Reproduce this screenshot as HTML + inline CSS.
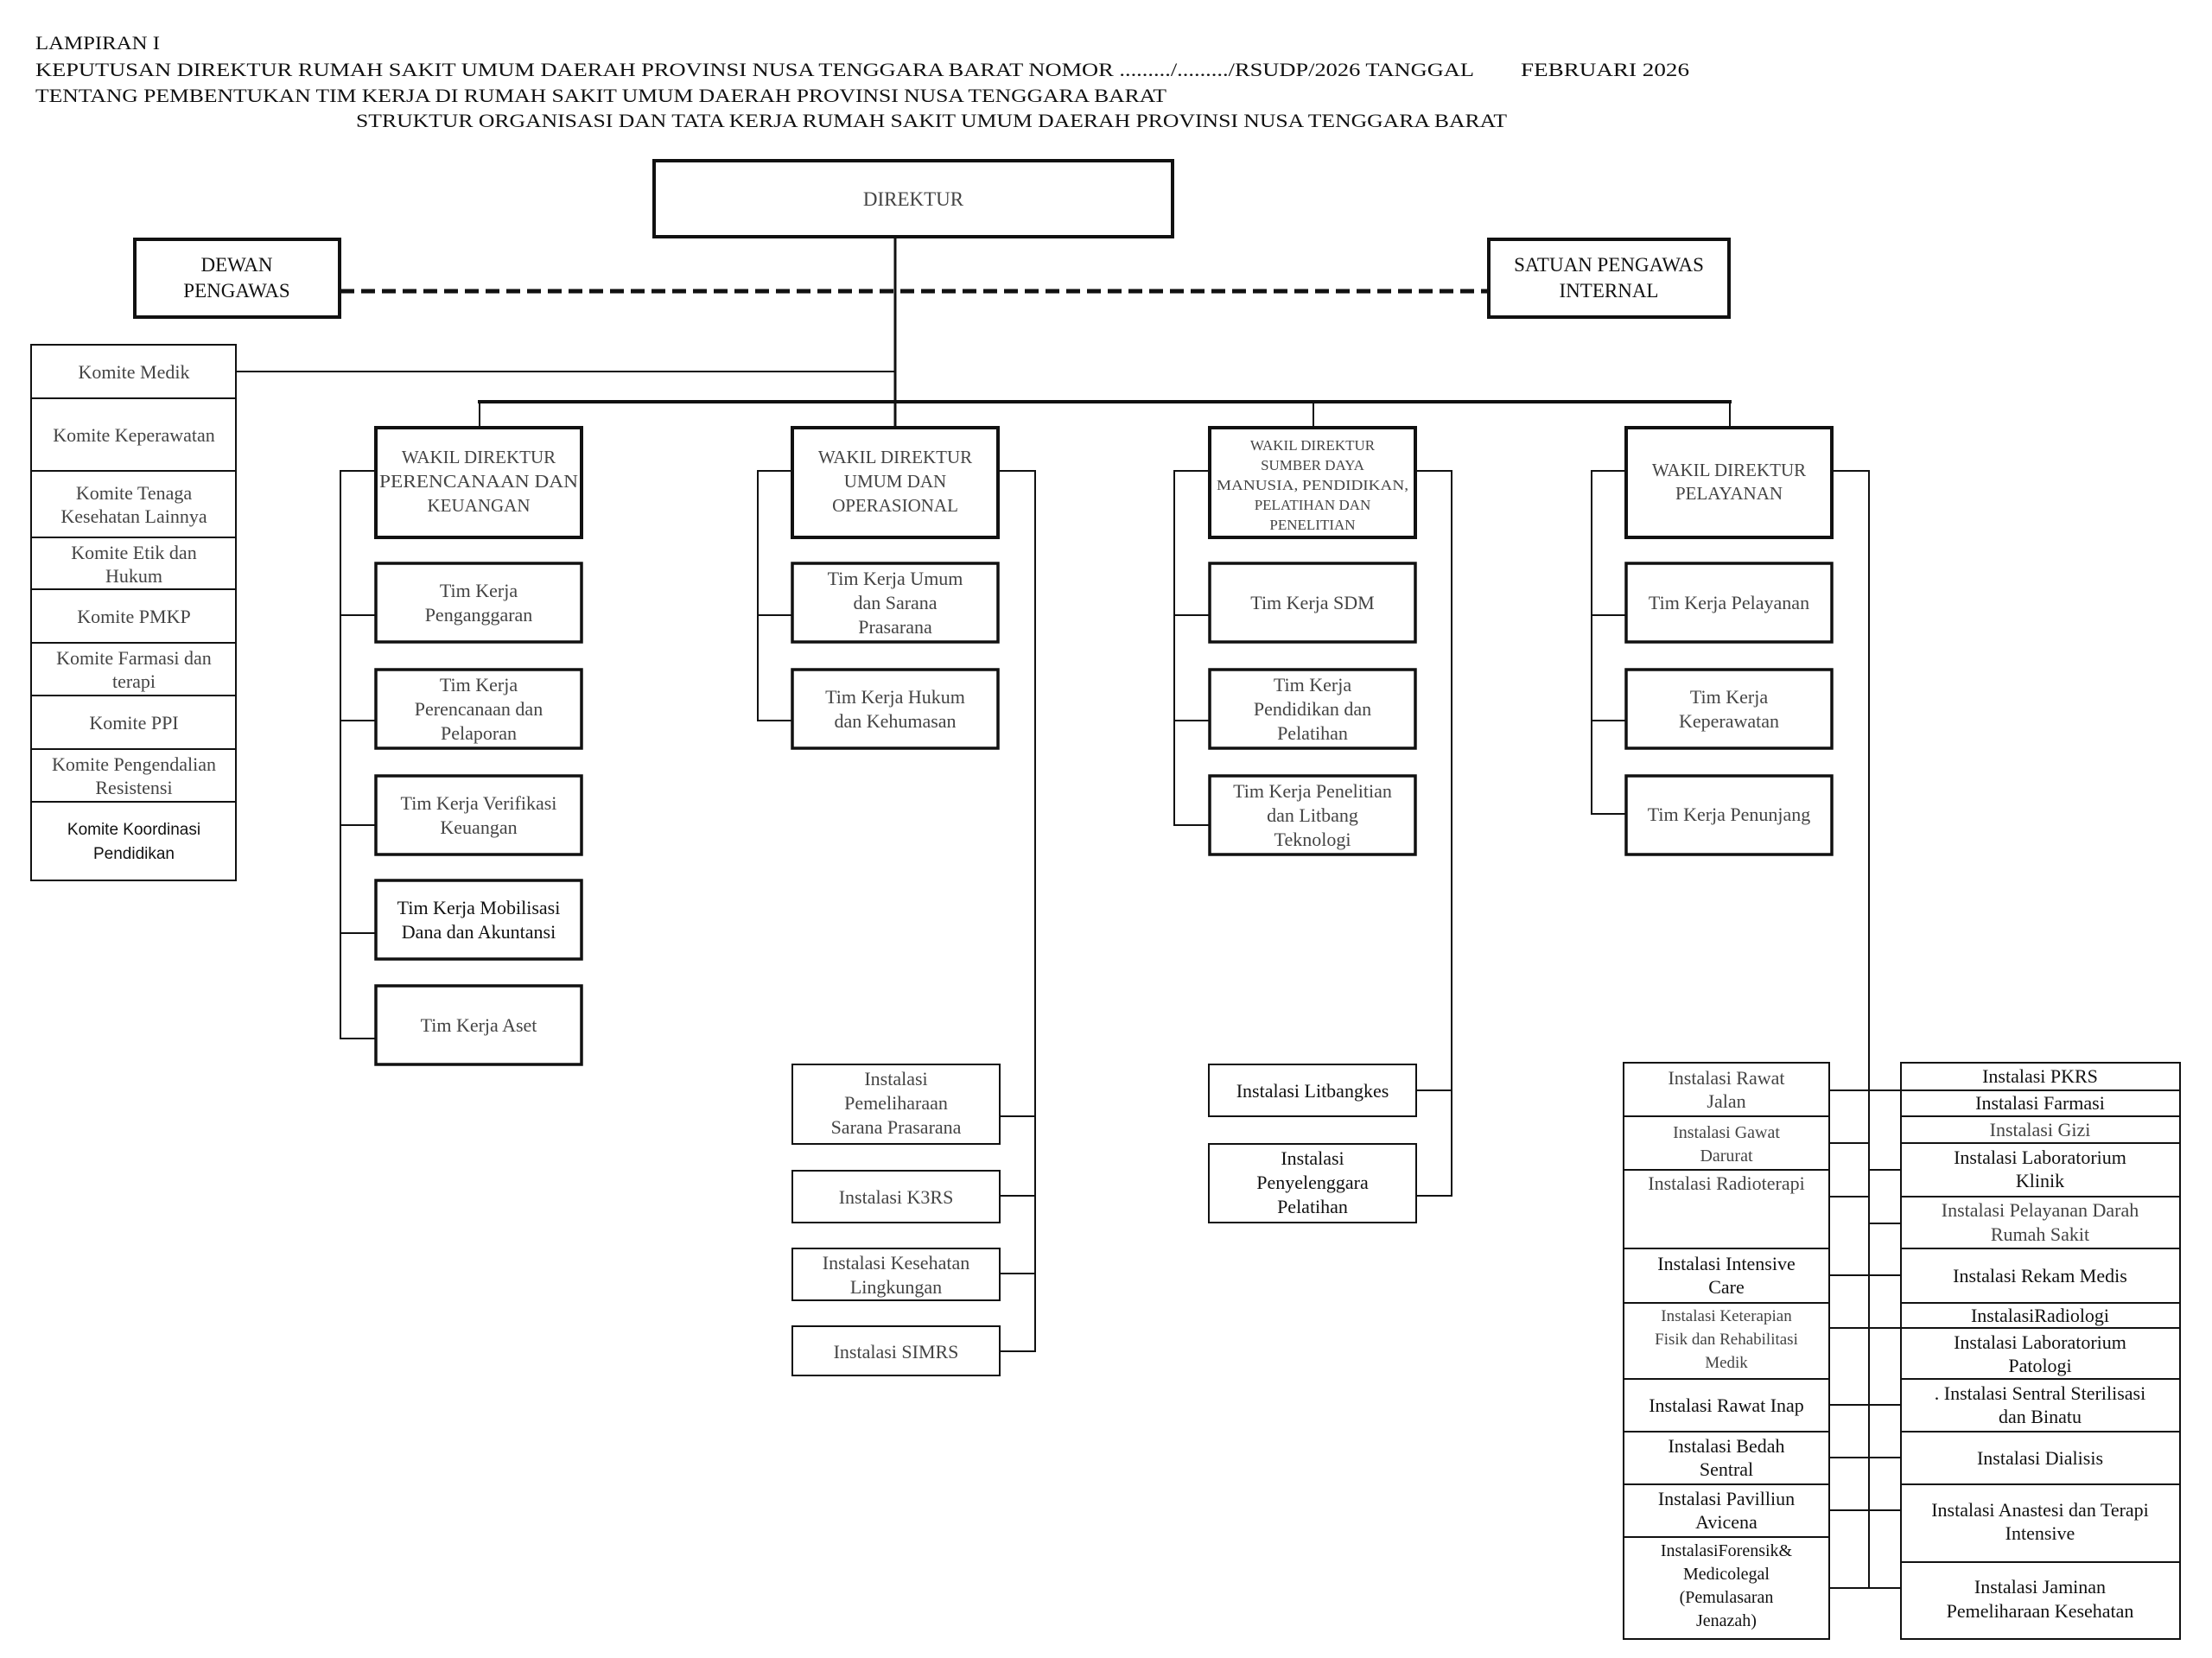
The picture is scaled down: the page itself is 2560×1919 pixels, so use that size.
<!DOCTYPE html>
<html><head><meta charset="utf-8"><style>
html,body{margin:0;padding:0;background:#fff;}
svg{display:block;}
text{font-family:"Liberation Serif",serif;text-anchor:middle;fill:#444;}
.h{text-anchor:start;fill:#111;font-size:22px;}
.k{fill:#111;}
</style></head><body>
<svg width="2560" height="1919" viewBox="0 0 2560 1919" xmlns="http://www.w3.org/2000/svg">
<rect width="2560" height="1919" fill="#fff"/>
<!-- header -->
<text class="h" x="41" y="57" textLength="144" lengthAdjust="spacingAndGlyphs">LAMPIRAN I</text>
<text class="h" x="41" y="88" textLength="1665" lengthAdjust="spacingAndGlyphs">KEPUTUSAN DIREKTUR RUMAH SAKIT UMUM DAERAH PROVINSI NUSA TENGGARA BARAT NOMOR ........./........./RSUDP/2026 TANGGAL</text>
<text class="h" x="1760" y="88" textLength="195" lengthAdjust="spacingAndGlyphs">FEBRUARI 2026</text>
<text class="h" x="41" y="118" textLength="1309" lengthAdjust="spacingAndGlyphs">TENTANG PEMBENTUKAN TIM KERJA DI RUMAH SAKIT UMUM DAERAH PROVINSI NUSA TENGGARA BARAT</text>
<text class="h" x="412" y="147" textLength="1332" lengthAdjust="spacingAndGlyphs">STRUKTUR ORGANISASI DAN TATA KERJA RUMAH SAKIT UMUM DAERAH PROVINSI NUSA TENGGARA BARAT</text>

<g stroke="#111" fill="none">
<!-- top -->
<rect x="757" y="186" width="600" height="88" stroke-width="4"/>
<rect x="156" y="277" width="237" height="90" stroke-width="4"/>
<rect x="1723" y="277" width="278" height="90" stroke-width="4"/>
<line x1="394" y1="337" x2="1721" y2="337" stroke-width="5" stroke-dasharray="16 8"/>
<line x1="1036" y1="275" x2="1036" y2="494" stroke-width="3"/>
<line x1="273" y1="430" x2="1036" y2="430" stroke-width="2"/>
<line x1="553" y1="465" x2="2004" y2="465" stroke-width="4"/>
<line x1="555" y1="465" x2="555" y2="494" stroke-width="2"/>
<line x1="1520" y1="465" x2="1520" y2="494" stroke-width="2"/>
<line x1="2002" y1="465" x2="2002" y2="494" stroke-width="2"/>
<!-- komite -->
<g stroke-width="2">
<rect x="36" y="399" width="237" height="620"/>
<line x1="36" y1="461" x2="273" y2="461"/><line x1="36" y1="545" x2="273" y2="545"/>
<line x1="36" y1="622" x2="273" y2="622"/><line x1="36" y1="682" x2="273" y2="682"/>
<line x1="36" y1="744" x2="273" y2="744"/><line x1="36" y1="805" x2="273" y2="805"/>
<line x1="36" y1="867" x2="273" y2="867"/><line x1="36" y1="928" x2="273" y2="928"/>
</g>
<!-- wakil -->
<g stroke-width="4">
<rect x="435" y="495" width="238" height="127"/>
<rect x="917" y="495" width="238" height="127"/>
<rect x="1400" y="495" width="238" height="127"/>
<rect x="1882" y="495" width="238" height="127"/>
</g>
<!-- tim boxes -->
<g stroke-width="3.5">
<rect x="435" y="652" width="238" height="91"/><rect x="435" y="775" width="238" height="91"/>
<rect x="435" y="898" width="238" height="91"/><rect x="435" y="1019" width="238" height="91"/>
<rect x="435" y="1141" width="238" height="91"/>
<rect x="917" y="652" width="238" height="91"/><rect x="917" y="775" width="238" height="91"/>
<rect x="1400" y="652" width="238" height="91"/><rect x="1400" y="775" width="238" height="91"/>
<rect x="1400" y="898" width="238" height="91"/>
<rect x="1882" y="652" width="238" height="91"/><rect x="1882" y="775" width="238" height="91"/>
<rect x="1882" y="898" width="238" height="91"/>
</g>
<!-- brackets -->
<g stroke-width="2">
<polyline points="435,545 394,545 394,1202 435,1202"/>
<line x1="394" y1="712" x2="435" y2="712"/><line x1="394" y1="834" x2="435" y2="834"/>
<line x1="394" y1="955" x2="435" y2="955"/><line x1="394" y1="1080" x2="435" y2="1080"/>
<polyline points="917,545 877,545 877,834 917,834"/>
<line x1="877" y1="712" x2="917" y2="712"/>
<polyline points="1155,545 1198,545 1198,1564 1157,1564"/>
<line x1="1157" y1="1292" x2="1198" y2="1292"/><line x1="1157" y1="1384" x2="1198" y2="1384"/>
<line x1="1157" y1="1474" x2="1198" y2="1474"/>
<polyline points="1400,545 1359,545 1359,955 1400,955"/>
<line x1="1359" y1="712" x2="1400" y2="712"/><line x1="1359" y1="834" x2="1400" y2="834"/>
<polyline points="1638,545 1680,545 1680,1384 1639,1384"/>
<line x1="1639" y1="1262" x2="1680" y2="1262"/>
<polyline points="1882,545 1842,545 1842,942 1882,942"/>
<line x1="1842" y1="712" x2="1882" y2="712"/><line x1="1842" y1="834" x2="1882" y2="834"/>
<polyline points="2120,545 2163,545 2163,1838"/>
<!-- installasi umum/sdm -->
<rect x="917" y="1232" width="240" height="92"/><rect x="917" y="1355" width="240" height="60"/>
<rect x="917" y="1445" width="240" height="60"/><rect x="917" y="1535" width="240" height="57"/>
<rect x="1399" y="1232" width="240" height="60"/><rect x="1399" y="1324" width="240" height="91"/>
<!-- pelayanan installations -->
<rect x="1879" y="1230" width="238" height="667"/>
<line x1="1879" y1="1292" x2="2117" y2="1292"/><line x1="1879" y1="1354" x2="2117" y2="1354"/>
<line x1="1879" y1="1445" x2="2117" y2="1445"/><line x1="1879" y1="1508" x2="2117" y2="1508"/>
<line x1="1879" y1="1596" x2="2117" y2="1596"/><line x1="1879" y1="1657" x2="2117" y2="1657"/>
<line x1="1879" y1="1718" x2="2117" y2="1718"/><line x1="1879" y1="1779" x2="2117" y2="1779"/>
<rect x="2200" y="1230" width="323" height="667"/>
<line x1="2200" y1="1262" x2="2523" y2="1262"/><line x1="2200" y1="1292" x2="2523" y2="1292"/>
<line x1="2200" y1="1323" x2="2523" y2="1323"/><line x1="2200" y1="1385" x2="2523" y2="1385"/>
<line x1="2200" y1="1445" x2="2523" y2="1445"/><line x1="2200" y1="1508" x2="2523" y2="1508"/>
<line x1="2200" y1="1537" x2="2523" y2="1537"/><line x1="2200" y1="1596" x2="2523" y2="1596"/>
<line x1="2200" y1="1657" x2="2523" y2="1657"/><line x1="2200" y1="1718" x2="2523" y2="1718"/>
<line x1="2200" y1="1808" x2="2523" y2="1808"/>
<line x1="2117" y1="1262" x2="2200" y2="1262"/><line x1="2117" y1="1323" x2="2163" y2="1323"/>
<line x1="2163" y1="1354" x2="2200" y2="1354"/><line x1="2117" y1="1385" x2="2163" y2="1385"/>
<line x1="2163" y1="1416" x2="2200" y2="1416"/><line x1="2117" y1="1476" x2="2200" y2="1476"/>
<line x1="2117" y1="1537" x2="2200" y2="1537"/><line x1="2117" y1="1626" x2="2200" y2="1626"/>
<line x1="2117" y1="1687" x2="2200" y2="1687"/><line x1="2117" y1="1748" x2="2200" y2="1748"/>
<line x1="2117" y1="1838" x2="2200" y2="1838"/>
</g>
</g>

<!-- labels -->
<g font-size="23">
<text x="1057" y="238">DIREKTUR</text>
<text class="k" x="274" y="314">DEWAN</text><text class="k" x="274" y="344">PENGAWAS</text>
<text class="k" x="1862" y="314">SATUAN PENGAWAS</text><text class="k" x="1862" y="344">INTERNAL</text>
</g>
<g font-size="22">
<text x="155" y="438">Komite Medik</text>
<text x="155" y="511">Komite Keperawatan</text>
<text x="155" y="578">Komite Tenaga</text><text x="155" y="605">Kesehatan Lainnya</text>
<text x="155" y="647">Komite Etik dan</text><text x="155" y="674">Hukum</text>
<text x="155" y="721">Komite PMKP</text>
<text x="155" y="769">Komite Farmasi dan</text><text x="155" y="796">terapi</text>
<text x="155" y="844">Komite PPI</text>
<text x="155" y="892">Komite Pengendalian</text><text x="155" y="919">Resistensi</text>
</g>
<g font-size="19">
<text class="k" x="155" y="966" style="font-family:'Liberation Sans',sans-serif">Komite Koordinasi</text>
<text class="k" x="155" y="994" style="font-family:'Liberation Sans',sans-serif">Pendidikan</text>
</g>
<g font-size="21">
<text x="554" y="536">WAKIL DIREKTUR</text><text x="554" y="564" textLength="230" lengthAdjust="spacingAndGlyphs">PERENCANAAN DAN</text><text x="554" y="592">KEUANGAN</text>
<text x="1036" y="536">WAKIL DIREKTUR</text><text x="1036" y="564">UMUM DAN</text><text x="1036" y="592">OPERASIONAL</text>
<text x="2001" y="551">WAKIL DIREKTUR</text><text x="2001" y="578">PELAYANAN</text>
</g>
<g font-size="17">
<text x="1519" y="521">WAKIL DIREKTUR</text><text x="1519" y="544">SUMBER DAYA</text>
<text x="1519" y="567" textLength="222" lengthAdjust="spacingAndGlyphs">MANUSIA, PENDIDIKAN,</text><text x="1519" y="590">PELATIHAN DAN</text><text x="1519" y="613">PENELITIAN</text>
</g>
<g font-size="22">
<text x="554" y="691">Tim Kerja</text><text x="554" y="719">Penganggaran</text>
<text x="554" y="800">Tim Kerja</text><text x="554" y="828">Perencanaan dan</text><text x="554" y="856">Pelaporan</text>
<text x="554" y="937">Tim Kerja Verifikasi</text><text x="554" y="965">Keuangan</text>
<text class="k" x="554" y="1058">Tim Kerja Mobilisasi</text><text class="k" x="554" y="1086">Dana dan Akuntansi</text>
<text x="554" y="1194">Tim Kerja Aset</text>
<text x="1036" y="677">Tim Kerja Umum</text><text x="1036" y="705">dan Sarana</text><text x="1036" y="733">Prasarana</text>
<text x="1036" y="814">Tim Kerja Hukum</text><text x="1036" y="842">dan Kehumasan</text>
<text x="1519" y="705">Tim Kerja SDM</text>
<text x="1519" y="800">Tim Kerja</text><text x="1519" y="828">Pendidikan dan</text><text x="1519" y="856">Pelatihan</text>
<text x="1519" y="923">Tim Kerja Penelitian</text><text x="1519" y="951">dan Litbang</text><text x="1519" y="979">Teknologi</text>
<text x="2001" y="705">Tim Kerja Pelayanan</text>
<text x="2001" y="814">Tim Kerja</text><text x="2001" y="842">Keperawatan</text>
<text x="2001" y="950">Tim Kerja Penunjang</text>
<text x="1037" y="1256">Instalasi</text><text x="1037" y="1284">Pemeliharaan</text><text x="1037" y="1312">Sarana Prasarana</text>
<text x="1037" y="1393">Instalasi K3RS</text>
<text x="1037" y="1469">Instalasi Kesehatan</text><text x="1037" y="1497">Lingkungan</text>
<text x="1037" y="1572">Instalasi SIMRS</text>
<text class="k" x="1519" y="1270">Instalasi Litbangkes</text>
<text class="k" x="1519" y="1348">Instalasi</text><text class="k" x="1519" y="1376">Penyelenggara</text><text class="k" x="1519" y="1404">Pelatihan</text>
</g>
<g font-size="22">
<text x="1998" y="1255">Instalasi Rawat</text><text x="1998" y="1282">Jalan</text>
<text x="1998" y="1317" font-size="20">Instalasi Gawat</text><text x="1998" y="1344" font-size="20">Darurat</text>
<text x="1998" y="1377">Instalasi Radioterapi</text>
<text class="k" x="1998" y="1470">Instalasi Intensive</text><text class="k" x="1998" y="1497">Care</text>
<text x="1998" y="1529" font-size="19">Instalasi Keterapian</text><text x="1998" y="1556" font-size="19">Fisik dan Rehabilitasi</text><text x="1998" y="1583" font-size="19">Medik</text>
<text class="k" x="1998" y="1634">Instalasi Rawat Inap</text>
<text class="k" x="1998" y="1681">Instalasi Bedah</text><text class="k" x="1998" y="1708">Sentral</text>
<text class="k" x="1998" y="1742">Instalasi Pavilliun</text><text class="k" x="1998" y="1769">Avicena</text>
<text class="k" x="1998" y="1801" font-size="20">InstalasiForensik&amp;</text><text class="k" x="1998" y="1828" font-size="20">Medicolegal</text><text class="k" x="1998" y="1855" font-size="20">(Pemulasaran</text><text class="k" x="1998" y="1882" font-size="20">Jenazah)</text>
<text class="k" x="2361" y="1253">Instalasi PKRS</text>
<text class="k" x="2361" y="1284">Instalasi Farmasi</text>
<text x="2361" y="1315">Instalasi Gizi</text>
<text class="k" x="2361" y="1347">Instalasi Laboratorium</text><text class="k" x="2361" y="1374">Klinik</text>
<text x="2361" y="1408">Instalasi Pelayanan Darah</text><text x="2361" y="1436">Rumah Sakit</text>
<text class="k" x="2361" y="1484">Instalasi Rekam Medis</text>
<text class="k" x="2361" y="1530">InstalasiRadiologi</text>
<text class="k" x="2361" y="1561">Instalasi Laboratorium</text><text class="k" x="2361" y="1588">Patologi</text>
<text class="k" x="2361" y="1620">. Instalasi Sentral Sterilisasi</text><text class="k" x="2361" y="1647">dan Binatu</text>
<text class="k" x="2361" y="1695">Instalasi Dialisis</text>
<text class="k" x="2361" y="1755">Instalasi Anastesi dan Terapi</text><text class="k" x="2361" y="1782">Intensive</text>
<text class="k" x="2361" y="1844">Instalasi Jaminan</text><text class="k" x="2361" y="1872">Pemeliharaan Kesehatan</text>
</g>
</svg>
</body></html>
